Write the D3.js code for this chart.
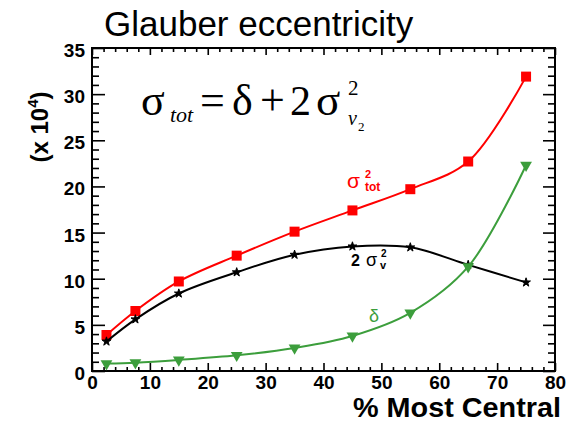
<!DOCTYPE html>
<html>
<head>
<meta charset="utf-8">
<script src="https://cdn.jsdelivr.net/npm/d3@7"></script>
<style>
  html, body { margin: 0; padding: 0; background: #fff; }
  svg { display: block; }
</style>
</head>
<body>
<svg id="chart" width="581" height="424" font-family="Liberation Sans, Arial, sans-serif"></svg>
<script>
// Centrality bins (% most central)
const centrality = [2.5, 7.5, 15, 25, 35, 45, 55, 65, 75];
// sigma_tot^2 (x 10^4)
const sigmaTot2 = [3.9, 6.5, 9.7, 12.5, 15.1, 17.4, 19.7, 22.7, 31.9];
// 2 sigma_v^2 (x 10^4)
const twoSigmaV2 = [3.2, 5.6, 8.4, 10.7, 12.6, 13.5, 13.4, 11.5, 9.6];
// delta (x 10^4)
const deltaVals = [0.8, 0.9, 1.2, 1.7, 2.5, 3.8, 6.3, 11.3, 22.3];

const xTicks = [0, 10, 20, 30, 40, 50, 60, 70, 80];
const yTicks = [0, 5, 10, 15, 20, 25, 30, 35];

const svg = d3.select("#chart");
const X0 = 92, X1 = 555, Y0 = 371, Y1 = 48;
const x = d3.scaleLinear().domain([0, 80]).range([X0, X1]);
const y = d3.scaleLinear().domain([0, 35]).range([Y0, Y1]);

const xMinor = d3.range(0, 81, 2).filter(v => v % 10 !== 0);
const yMinor = d3.range(0, 36, 1).filter(v => v % 5 !== 0);

const sans = "Liberation Sans, Arial, sans-serif";
const serif = "Liberation Serif, Times New Roman, serif";

function styleAxis(g) {
  g.selectAll(".domain").remove();
  g.selectAll(".tick line").attr("stroke", "#000").attr("stroke-width", 1.6);
}

// Bottom axis: major ticks with labels, minor ticks without
svg.append("g").attr("transform", `translate(0,${Y0})`)
  .call(d3.axisBottom(x).tickValues(xTicks).tickSizeInner(-8).tickSizeOuter(0).tickPadding(5).tickFormat(d3.format("d")))
  .call(styleAxis)
  .call(g => g.attr("font-family", sans).attr("font-size", 19))
  .call(g => g.selectAll("text").attr("font-weight", "bold").attr("fill", "#000"));
svg.append("g").attr("transform", `translate(0,${Y0})`)
  .call(d3.axisBottom(x).tickValues(xMinor).tickSizeInner(-4).tickSizeOuter(0).tickFormat(""))
  .call(styleAxis);

// Top axis ticks
svg.append("g").attr("transform", `translate(0,${Y1})`)
  .call(d3.axisTop(x).tickValues(xTicks).tickSizeInner(-7).tickSizeOuter(0).tickFormat(""))
  .call(styleAxis);
svg.append("g").attr("transform", `translate(0,${Y1})`)
  .call(d3.axisTop(x).tickValues(xMinor).tickSizeInner(-4).tickSizeOuter(0).tickFormat(""))
  .call(styleAxis);

// Left axis
svg.append("g").attr("transform", `translate(${X0},0)`)
  .call(d3.axisLeft(y).tickValues(yTicks).tickSizeInner(-13).tickSizeOuter(0).tickPadding(7).tickFormat(d3.format("d")))
  .call(styleAxis)
  .call(g => g.attr("font-family", sans).attr("font-size", 19))
  .call(g => g.selectAll("text").attr("font-weight", "bold").attr("fill", "#000").attr("dy", "0.45em"));
svg.append("g").attr("transform", `translate(${X0},0)`)
  .call(d3.axisLeft(y).tickValues(yMinor).tickSizeInner(-7).tickSizeOuter(0).tickFormat(""))
  .call(styleAxis);

// Right axis ticks
svg.append("g").attr("transform", `translate(${X1},0)`)
  .call(d3.axisRight(y).tickValues(yTicks).tickSizeInner(-12).tickSizeOuter(0).tickFormat(""))
  .call(styleAxis);
svg.append("g").attr("transform", `translate(${X1},0)`)
  .call(d3.axisRight(y).tickValues(yMinor).tickSizeInner(-7).tickSizeOuter(0).tickFormat(""))
  .call(styleAxis);

// Frame
svg.append("rect").attr("x", X0).attr("y", Y1).attr("width", X1 - X0).attr("height", Y0 - Y1)
  .attr("fill", "none").attr("stroke", "#000").attr("stroke-width", 2);

const series = [
  { values: sigmaTot2, color: "#ff0000", marker: "square" },
  { values: twoSigmaV2, color: "#000000", marker: "star" },
  { values: deltaVals, color: "#3c9e3c", marker: "triangleDown" }
];

const line = d3.line().x(d => x(d[0])).y(d => y(d[1])).curve(d3.curveCatmullRom.alpha(0.5));

series.forEach(s => {
  const pts = centrality.map((c, i) => [c, s.values[i]]);
  svg.append("path").datum(pts).attr("d", line)
    .attr("fill", "none").attr("stroke", s.color).attr("stroke-width", 2);
  const g = svg.append("g");
  let sym;
  if (s.marker === "square") sym = d3.symbol(d3.symbolSquare, 100);
  else if (s.marker === "star") sym = d3.symbol(d3.symbolStar, 24);
  else sym = d3.symbol(d3.symbolTriangle, 60);
  g.selectAll("path").data(pts).join("path")
    .attr("d", sym)
    .attr("transform", d => `translate(${x(d[0])},${y(d[1])})` + (s.marker === "triangleDown" ? " rotate(180)" : ""))
    .attr("fill", s.color)
    .attr("stroke", s.color)
    .attr("stroke-width", s.marker === "star" ? 1 : 0);
});

// Title
svg.append("text").attr("x", 104).attr("y", 36).attr("font-size", 35)
  .attr("fill", "#000").text("Glauber eccentricity");

// Axis titles
svg.append("text").attr("x", 561).attr("y", 417).attr("text-anchor", "end")
  .attr("font-size", 27).attr("font-weight", "bold")
  .attr("textLength", 208).attr("lengthAdjust", "spacingAndGlyphs").text("% Most Central");

const yt = svg.append("text").attr("transform", "translate(48,127) rotate(-90)")
  .attr("text-anchor", "middle").attr("font-size", 24).attr("font-weight", "bold");
yt.append("tspan").text("(x 10");
yt.append("tspan").attr("font-size", 15).attr("dy", -10).text("4");
yt.append("tspan").attr("dy", 10).text(")");

// Formula: sigma_tot = delta + 2 sigma^2_{v2}
function ftext(px, py, size, str, italic) {
  return svg.append("text").attr("x", px).attr("y", py).attr("font-size", size)
    .attr("font-family", serif).attr("font-style", italic ? "italic" : "normal")
    .attr("fill", "#000").text(str);
}
ftext(141, 115, 44, "σ");
ftext(170, 122, 22, "tot", true);
ftext(200, 115, 44, "=");
ftext(232, 115, 44, "δ");
ftext(260, 115, 44, "+");
ftext(290, 115, 42, "2");
ftext(316, 115, 45, "σ");
ftext(348, 95, 21, "2");
ftext(348, 125, 20, "v", true);
ftext(358, 131, 13, "2");

// Series labels
function stext(px, py, size, str, color, bold) {
  return svg.append("text").attr("x", px).attr("y", py).attr("font-size", size)
    .attr("font-weight", bold ? "bold" : "normal").attr("fill", color).text(str);
}
stext(347, 188, 21, "σ", "#ff0000", false);
stext(365, 178, 11, "2", "#ff0000", true);
stext(365, 191, 12, "tot", "#ff0000", true);

stext(351, 266, 16, "2", "#000", true);
stext(366, 266, 18, "σ", "#000", false);
stext(381, 257, 10, "2", "#000", true);
stext(380, 269, 11, "v", "#000", true);

stext(369, 322, 18, "δ", "#3c9e3c", false);
</script>
</body>
</html>
